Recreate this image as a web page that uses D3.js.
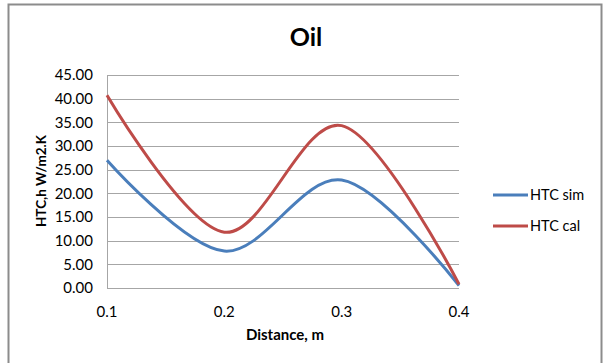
<!DOCTYPE html>
<html lang="en">
<head>
    <meta charset="UTF-8">
    <title>Oil HTC</title>
    <style>
        body, html {
          margin: 0;
          background: #fff;
        }
        svg text {
            font-family: "Lato", "Open Sans", sans-serif;
            fill: #000;
        }
        .grid line {
            stroke: #a6a6a6;
            stroke-width: 1px;
        }
    </style>
</head>
<body>
    <svg width="609" height="363"></svg>

    <script src="https://d3js.org/d3.v7.min.js"></script>
    <script>
        // values
        const distance = [0.1, 0.2, 0.3, 0.4];
        const htcSim = [27.0, 7.8, 22.8, 0.5];
        const htcCal = [40.7, 11.8, 34.3, 0.8];
        const xTicks = [0.1, 0.2, 0.3, 0.4];
        const yTicks = [0, 5, 10, 15, 20, 25, 30, 35, 40, 45];

        const series = [
            { name: "HTC sim", values: htcSim, color: "#4a7ebb" },
            { name: "HTC cal", values: htcCal, color: "#be4b48" }
        ];

        const svg = d3.select("svg");

        // outer chart border (bottom runs off the picture)
        svg.append("rect")
            .attr("x", 8.5).attr("y", 4.5)
            .attr("width", 593).attr("height", 370)
            .attr("fill", "none")
            .attr("stroke", "#8c8c8c")
            .attr("stroke-width", 2);

        const x = d3.scaleLinear().domain([0.1, 0.4]).range([107, 459]);
        const y = d3.scaleLinear().domain([0, 45]).range([288, 75]);

        // gridlines
        svg.append("g")
            .attr("class", "grid")
            .selectAll("line")
            .data(yTicks)
            .enter().append("line")
            .attr("x1", x(0.1)).attr("x2", x(0.4))
            .attr("y1", d => Math.round(y(d)) + 0.5)
            .attr("y2", d => Math.round(y(d)) + 0.5);

        // left axis line
        svg.append("line")
            .attr("x1", x(0.1) + 0.5).attr("x2", x(0.1) + 0.5)
            .attr("y1", y(45)).attr("y2", y(0))
            .attr("stroke", "#a6a6a6");

        // y tick labels
        svg.append("g")
            .selectAll("text")
            .data(yTicks)
            .enter().append("text")
            .attr("x", 93)
            .attr("y", d => y(d))
            .attr("dy", "0.35em")
            .attr("text-anchor", "end")
            .attr("font-size", 15)
            .text(d => d3.format(".2f")(d));

        // x tick labels
        svg.append("g")
            .selectAll("text")
            .data(xTicks)
            .enter().append("text")
            .attr("x", d => x(d))
            .attr("y", 317)
            .attr("text-anchor", "middle")
            .attr("font-size", 15)
            .text(d => d3.format(".1f")(d));

        const line = d3.line()
            .x((d, i) => x(distance[i]))
            .y(d => y(d))
            .curve(d3.curveCardinal.tension(0));

        svg.append("g")
            .selectAll("path")
            .data(series)
            .enter().append("path")
            .attr("d", d => line(d.values))
            .attr("fill", "none")
            .attr("stroke", d => d.color)
            .attr("stroke-width", 3);

        // title and axis titles
        svg.append("text")
            .attr("x", 306).attr("y", 46)
            .attr("text-anchor", "middle")
            .attr("font-size", 25)
            .attr("font-weight", "bold")
            .text("Oil");

        svg.append("text")
            .attr("x", 285).attr("y", 340)
            .attr("text-anchor", "middle")
            .attr("font-size", 15)
            .attr("font-weight", "bold")
            .text("Distance, m");

        svg.append("text")
            .attr("transform", "translate(46,181) rotate(-90)")
            .attr("text-anchor", "middle")
            .attr("font-size", 13.5)
            .attr("font-weight", "bold")
            .text("HTC,h W/m2.K");

        // legend
        const legend = svg.append("g")
            .selectAll("g")
            .data(series)
            .enter().append("g")
            .attr("transform", (d, i) => `translate(493,${195 + i * 31})`);

        legend.append("line")
            .attr("x1", 0).attr("x2", 35)
            .attr("stroke", d => d.color)
            .attr("stroke-width", 3);

        legend.append("text")
            .attr("x", 37)
            .attr("dy", "0.35em")
            .attr("font-size", 14.5)
            .text(d => d.name);
    </script>
</body>
</html>
